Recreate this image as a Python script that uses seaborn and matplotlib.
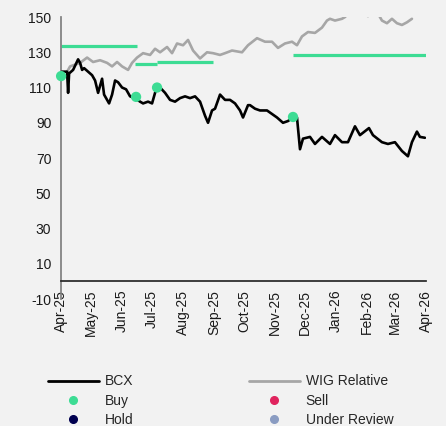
import matplotlib
matplotlib.use('Agg')
import matplotlib.pyplot as plt
import matplotlib.dates as mdates
from matplotlib.lines import Line2D
import seaborn as sb
import pandas as pd

# share price (BCX)
bcx_dates = ['2025-04-01', '2025-04-02', '2025-04-07', '2025-04-08', '2025-04-09', '2025-04-13',
             '2025-04-18', '2025-04-20', '2025-04-22', '2025-04-24', '2025-04-28', '2025-05-02',
             '2025-05-05', '2025-05-08', '2025-05-12', '2025-05-14', '2025-05-19', '2025-05-22',
             '2025-05-25', '2025-05-28', '2025-06-01', '2025-06-05', '2025-06-09', '2025-06-14',
             '2025-06-19', '2025-06-22', '2025-06-27', '2025-07-01', '2025-07-04', '2025-07-06',
             '2025-07-09', '2025-07-14', '2025-07-19', '2025-07-24', '2025-07-29', '2025-08-03',
             '2025-08-08', '2025-08-13', '2025-08-18', '2025-08-23', '2025-08-26', '2025-08-30',
             '2025-09-02', '2025-09-07', '2025-09-12', '2025-09-17', '2025-09-22', '2025-09-27',
             '2025-09-30', '2025-10-05', '2025-10-07', '2025-10-12', '2025-10-17', '2025-10-24',
             '2025-10-29', '2025-11-03', '2025-11-09', '2025-11-14', '2025-11-19', '2025-11-23',
             '2025-11-26', '2025-11-29', '2025-12-06', '2025-12-11', '2025-12-18', '2025-12-26',
             '2025-12-31', '2026-01-07', '2026-01-13', '2026-01-20', '2026-01-25', '2026-02-03',
             '2026-02-07', '2026-02-16', '2026-02-22', '2026-03-01', '2026-03-08', '2026-03-14',
             '2026-03-18', '2026-03-23', '2026-03-26', '2026-03-31']
bcx_values = [116.5, 119, 119, 107, 118, 120,
              126, 124, 120, 121, 119, 117,
              114, 107, 115, 106, 101, 106,
              114, 113, 110, 109, 105, 104,
              102, 101, 102, 101, 107, 110,
              110, 107, 103, 102, 104, 105,
              104, 105, 102, 94, 90, 97,
              98, 106, 103, 103, 101, 97,
              93, 100, 100, 98, 97, 97,
              95, 93, 90, 91, 93, 93,
              75, 81, 82, 78, 82, 78,
              83, 79, 79, 88, 83, 87,
              83, 79, 78, 79, 74, 71,
              79, 85, 82, 81.5]

# WIG relative
wig_dates = ['2025-04-07', '2025-04-10', '2025-04-15', '2025-04-20', '2025-04-27', '2025-05-03',
             '2025-05-10', '2025-05-17', '2025-05-22', '2025-05-27', '2025-06-01', '2025-06-07',
             '2025-06-11', '2025-06-16', '2025-06-22', '2025-06-29', '2025-07-04', '2025-07-09',
             '2025-07-16', '2025-07-21', '2025-07-26', '2025-08-01', '2025-08-06', '2025-08-11',
             '2025-08-18', '2025-08-25', '2025-08-31', '2025-09-07', '2025-09-12', '2025-09-19',
             '2025-09-29', '2025-10-05', '2025-10-14', '2025-10-22', '2025-10-29', '2025-11-04',
             '2025-11-11', '2025-11-18', '2025-11-23', '2025-11-28', '2025-12-04', '2025-12-11',
             '2025-12-18', '2025-12-23', '2025-12-26', '2025-12-31', '2026-01-07', '2026-01-10',
             '2026-01-15', '2026-01-23', '2026-01-30', '2026-02-02', '2026-02-06', '2026-02-12',
             '2026-02-16', '2026-02-21', '2026-02-26', '2026-03-03', '2026-03-08', '2026-03-13',
             '2026-03-18']
wig_values = [119, 122, 123, 124, 127, 124.5,
              125.5, 124, 122, 124.5, 122, 120,
              124, 127, 129.5, 128.5, 132, 130,
              133, 129.5, 135, 134, 137, 131,
              126.5, 130, 129.5, 128.5, 129.5, 131,
              130, 134, 138, 136, 136, 132.5,
              135, 136, 134, 139, 141.5, 141,
              144, 148, 149, 148, 149, 150,
              153, 155, 152, 150.5, 153, 152,
              148, 146.5, 149, 146.5, 145.5, 147,
              149]

# target price periods
target_start = ['2025-04-01', '2025-06-14', '2025-07-06', '2025-11-19']
target_end = ['2025-06-16', '2025-07-06', '2025-08-31', '2026-04-01']
target_values = [133.5, 123.3, 124.3, 128.5]

# recommendations
buy_dates = ['2025-04-01', '2025-06-15', '2025-07-06', '2025-11-19']
buy_values = [116.5, 104.7, 110, 93.3]

GREEN = '#3ddc94'
SELL = '#e0245e'
HOLD = '#000050'
REVIEW = '#8a9cc2'
BG = '#f2f2f2'

sb.set_theme(style='white', rc={'figure.facecolor': BG, 'axes.facecolor': BG})
plt.rcParams['font.family'] = ['Liberation Sans', 'DejaVu Sans']
plt.rcParams['axes.unicode_minus'] = False

df_bcx = pd.DataFrame({'date': pd.to_datetime(bcx_dates), 'value': bcx_values})
df_wig = pd.DataFrame({'date': pd.to_datetime(wig_dates), 'value': wig_values})
df_buy = pd.DataFrame({'date': pd.to_datetime(buy_dates), 'value': buy_values})

fig = plt.figure(figsize=(4.46, 4.26), dpi=100)
ax = fig.add_axes([0.137, 0.298, 0.818, 0.662])

ax.hlines(target_values, pd.to_datetime(target_start), pd.to_datetime(target_end),
          color=GREEN, lw=2.3, zorder=2)
sb.lineplot(data=df_wig, x='date', y='value', ax=ax, color='#a6a6a6', lw=1.9, zorder=3)
sb.lineplot(data=df_bcx, x='date', y='value', ax=ax, color='black', lw=1.9, zorder=4)
sb.scatterplot(data=df_buy, x='date', y='value', ax=ax, color=GREEN, s=55,
               edgecolor='none', zorder=5, clip_on=False)

ax.set_xlim(pd.Timestamp('2025-04-01'), pd.Timestamp('2026-04-01'))
ax.set_ylim(-10, 150)
ax.set_yticks(range(-10, 151, 20))
ax.xaxis.set_major_locator(mdates.MonthLocator())
ax.xaxis.set_major_formatter(mdates.DateFormatter('%b-%y'))
ax.set_xlabel('')
ax.set_ylabel('')

ax.spines['top'].set_visible(False)
ax.spines['right'].set_visible(False)
ax.spines['bottom'].set_position(('data', 0))
ax.spines['bottom'].set_color('#262626')
ax.spines['left'].set_color('#7f7f7f')
ax.tick_params(axis='x', direction='out', length=4, width=1, color='#262626',
               labelsize=10, labelcolor='#1a1a1a', labelrotation=90, pad=2)
ax.tick_params(axis='y', direction='out', length=4, width=1, color='#7f7f7f',
               labelsize=10, labelcolor='#1a1a1a', pad=3)
ax.grid(False)

handles = [
    Line2D([], [], color='black', lw=2),
    Line2D([], [], ls='none', marker='o', ms=5.5, color=GREEN),
    Line2D([], [], ls='none', marker='o', ms=5.5, color=HOLD),
    Line2D([], [], color='#a6a6a6', lw=2),
    Line2D([], [], ls='none', marker='o', ms=5.5, color=SELL),
    Line2D([], [], ls='none', marker='o', ms=5.5, color=REVIEW),
]
labels = ['BCX', 'Buy', 'Hold', 'WIG Relative', 'Sell', 'Under Review']
fig.legend(handles, labels, ncol=2, loc='upper left', bbox_to_anchor=(0.107, 0.121),
           frameon=False, fontsize=10, handlelength=3.7, handletextpad=0.4,
           columnspacing=8.3, labelspacing=0.37, borderpad=0, borderaxespad=0)

plt.savefig('out.png', dpi=100, facecolor=BG)
